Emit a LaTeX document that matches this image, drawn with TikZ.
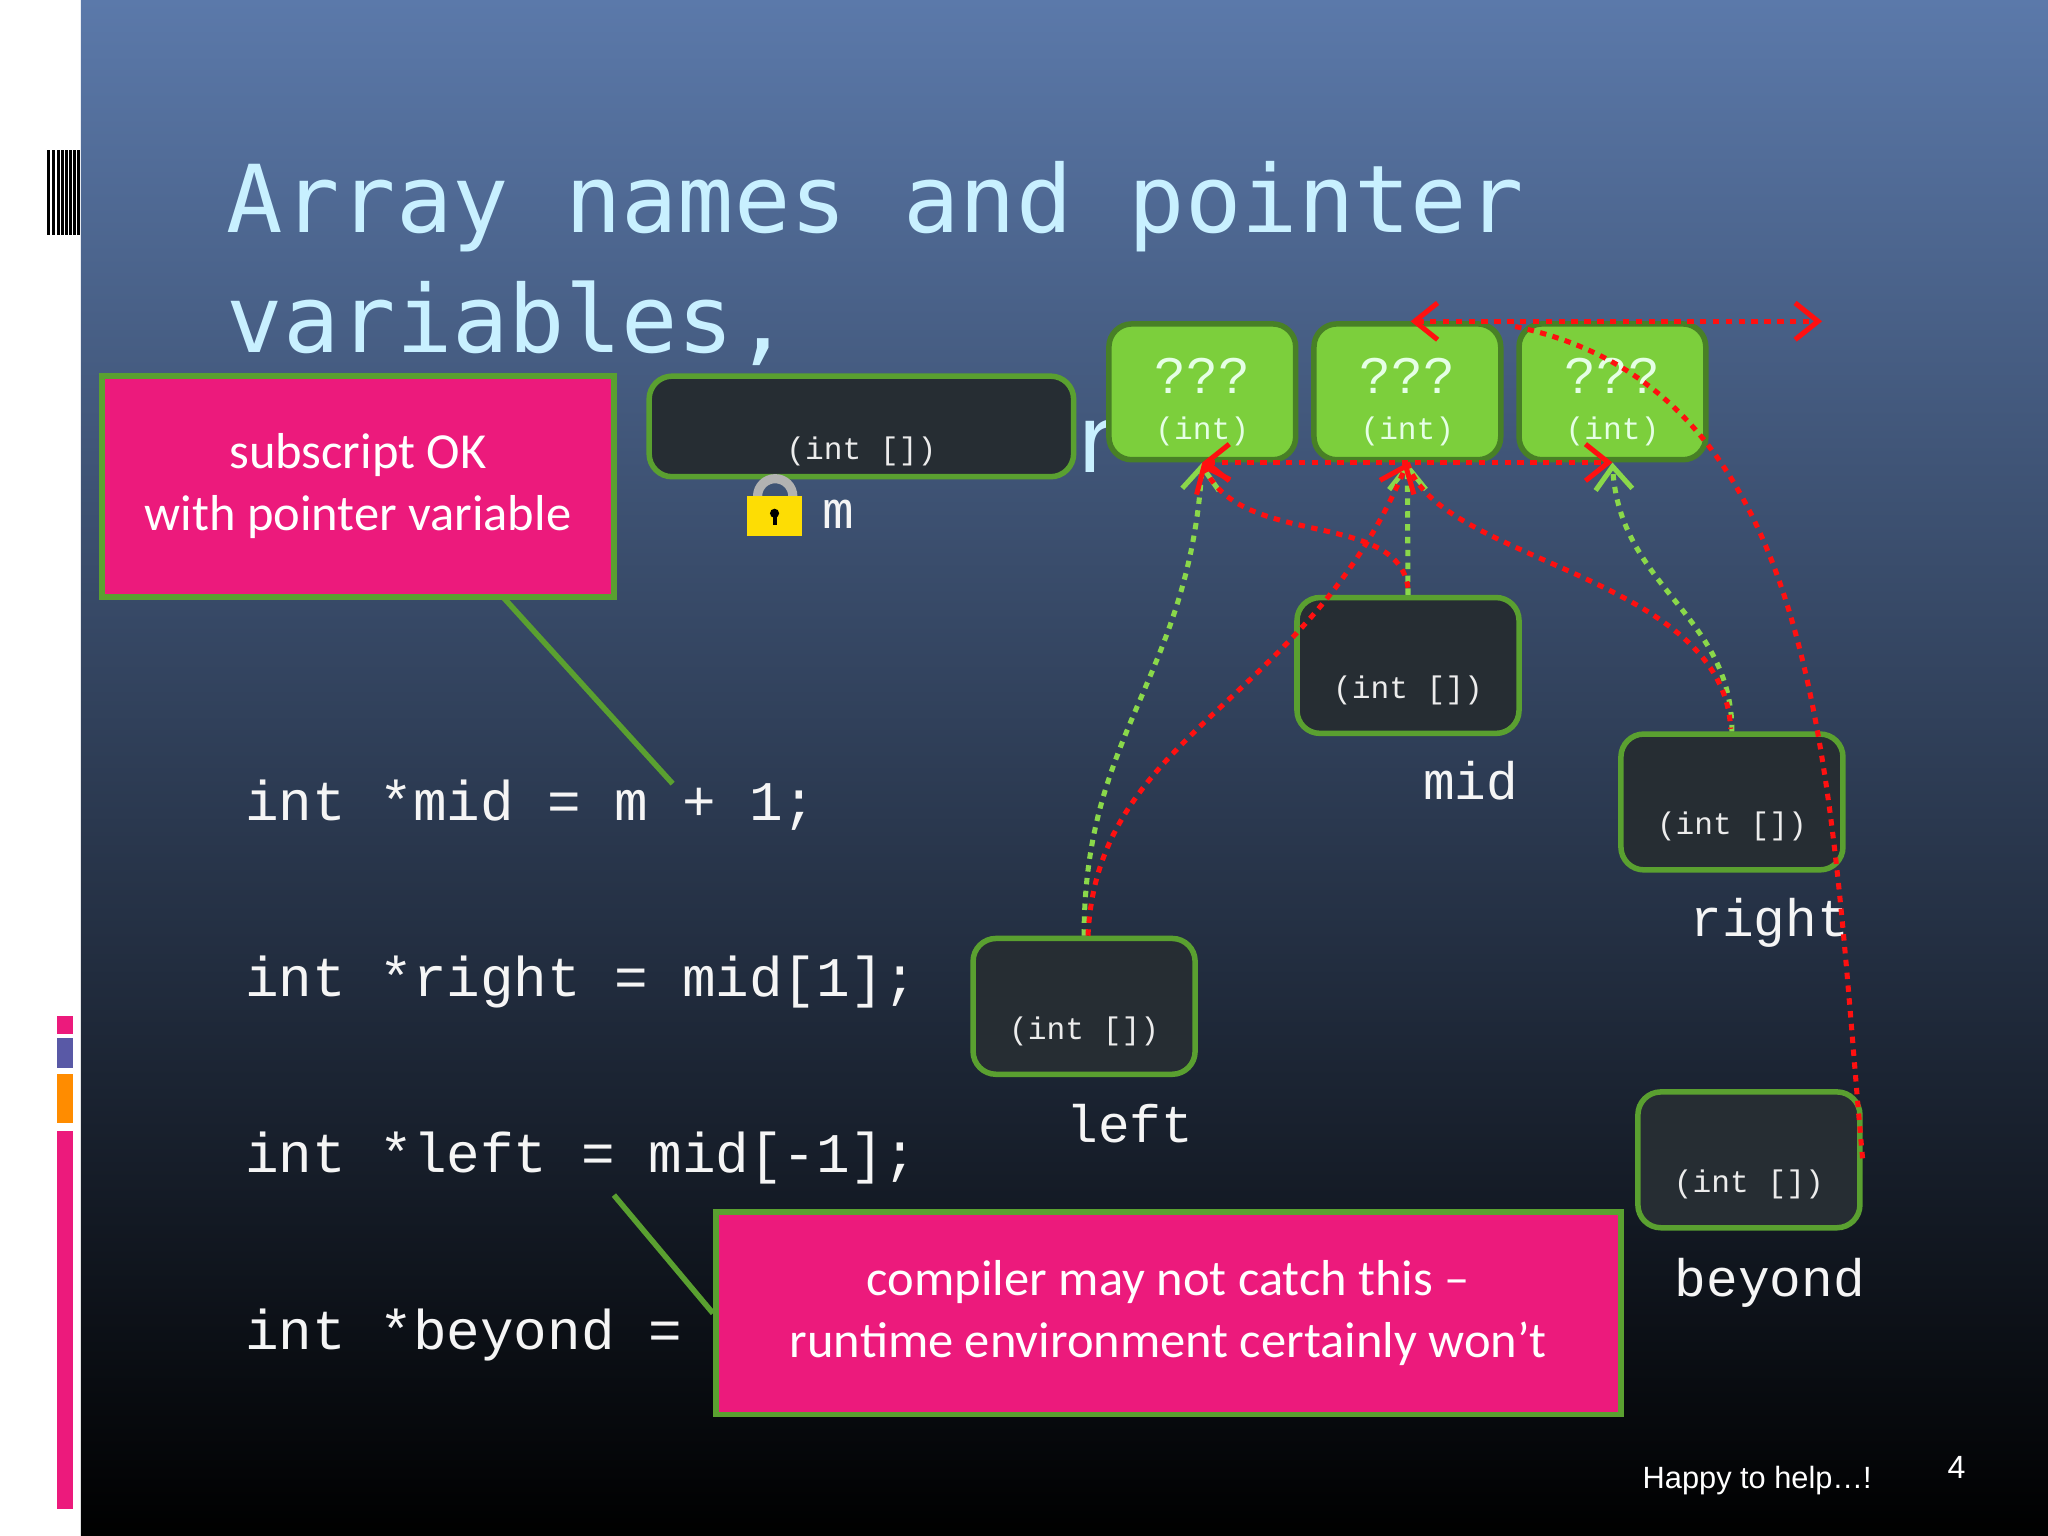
\documentclass[tikz,border=0pt]{standalone}
\usepackage{fontspec}
\usetikzlibrary{arrows.meta}
\newfontfamily\titlef{DejaVu Sans Mono}
\newfontfamily\codef{Liberation Mono}
\newfontfamily\calf{Carlito}
\newfontfamily\arialf{Liberation Sans}
\definecolor{pinkc}{HTML}{EC1A7C}
\definecolor{edgeg}{HTML}{5AA030}
\definecolor{boxd}{HTML}{262D33}
\definecolor{lgreen}{HTML}{7CCF3C}
\definecolor{titlec}{HTML}{C8F0FF}
\definecolor{bgtop}{HTML}{5B79AA}
\definecolor{bgmid}{HTML}{26334B}
\definecolor{redd}{HTML}{FF1010}
\definecolor{greend}{HTML}{8AD84A}
\tikzset{
 darkbox/.style={draw=edgeg,line width=1.2pt,fill=boxd,rounded corners=5pt,minimum width=1.7cm,minimum height=1.04cm,inner sep=0pt},
 inttxt/.style={text=white!85!gray,font=\codef\fontsize{6.8}{7}\selectfont},
 grbox/.style={draw=edgeg!80!black,line width=1.2pt,fill=lgreen,rounded corners=5pt,minimum width=1.43cm,minimum height=1.04cm,inner sep=0pt},
 pinkbox/.style={draw=edgeg,line width=1.2pt,fill=pinkc,inner sep=0pt,text=white,font=\calf\fontsize{11}{13.5}\selectfont,align=center},
 codet/.style={text=white!92!gray,font=\codef\fontsize{12.2}{12}\selectfont,anchor=base west,inner sep=0pt},
 vlabel/.style={text=white!92!gray,font=\codef\fontsize{11.5}{12}\selectfont,anchor=base,inner sep=0pt},
 rdot/.style={redd,line width=1.1pt,dash pattern=on 1.4pt off 1.4pt},
 gdot/.style={greend,line width=1.1pt,dash pattern=on 1.4pt off 1.4pt},
 tip/.style={-{Straight Barb[length=5pt,width=8pt]}},
 tips/.style={{Straight Barb[length=5pt,width=8pt]}-{Straight Barb[length=5pt,width=8pt]}},
}
\begin{document}
\begin{tikzpicture}
\useasboundingbox (0,0) rectangle (15.68,-11.76);
\fill[white] (0,0) rectangle (0.62,-11.76);
\shade[top color=bgtop,middle color=bgmid,bottom color=black] (0.62,0) rectangle (15.68,-11.76);
% left decoration
\foreach \x in {0.36,0.40,0.44,0.47,0.50,0.53,0.56,0.59}
  \fill[black] (\x,-1.15) rectangle (\x+0.02,-1.80);
\fill[pinkc] (0.44,-7.78) rectangle (0.56,-7.92);
\fill[gray!70!blue] (0.44,-7.95) rectangle (0.56,-8.18);
\fill[orange!90!yellow] (0.44,-8.22) rectangle (0.56,-8.60);
\fill[pinkc] (0.44,-8.66) rectangle (0.56,-11.55);
% title
\node[anchor=base west,inner sep=0pt,text=titlec,font=\titlef\fontsize{20.4}{24}\selectfont] (t1) at (1.73,-1.78) {Array names and pointer};
\node[anchor=base west,inner sep=0pt,text=titlec,font=\titlef\fontsize{20.4}{24}\selectfont] (t2) at (1.73,-2.70) {variables,};
\node[anchor=base west,inner sep=0pt,text=titlec,font=\titlef\fontsize{20.4}{24}\selectfont] (tr) at (8.18,-3.62) {r};
% pointer box m
\node[darkbox,minimum width=3.25cm,minimum height=0.77cm,label={[inttxt,yshift=-0.19cm]center:(int [])}] (m) at (6.595,-3.265) {};
\node[vlabel] (ml) at (6.42,-4.05) {m};
% lock
\draw[gray!60,line width=2pt] (5.80,-3.80) arc (180:0:0.135) -- (6.07,-3.86);
\fill[yellow!80!orange] (5.72,-3.80) rectangle (6.14,-4.10);
\fill[black] (5.93,-3.93) circle (0.035);
\fill[black] (5.915,-3.93) rectangle (5.945,-4.02);
% green cells
\foreach \n/\x in {g1/9.205,g2/10.775,g3/12.345}
  \node[grbox] (\n) at (\x,-3.00) {};
\foreach \n in {g1,g2,g3}{
  \node[text=white!90!green,font=\codef\fontsize{11.5}{12}\selectfont,inner sep=0pt] at ([yshift=0.12cm]\n.center) {???};
  \node[inttxt,text=white!90!green] at ([yshift=-0.30cm]\n.center) {(int)};
}
% pointer boxes
\node[darkbox,label={[inttxt,yshift=-0.19cm]center:(int [])}] (mid) at (10.78,-5.095) {};
\node[darkbox,label={[inttxt,yshift=-0.19cm]center:(int [])}] (right) at (13.26,-6.14) {};
\node[darkbox,label={[inttxt,yshift=-0.19cm]center:(int [])}] (left) at (8.30,-7.705) {};
\node[darkbox,label={[inttxt,yshift=-0.19cm]center:(int [])}] (beyond) at (13.39,-8.88) {};
\node[vlabel] (midl) at (11.26,-6.12) {mid};
\node[vlabel] (rightl) at (13.55,-7.17) {right};
\node[vlabel] (leftl) at (8.65,-8.75) {left};
\node[vlabel] (beyondl) at (13.55,-9.93) {beyond};
% code
\node[codet] (c1) at (1.87,-6.28) {int *mid = m + 1;};
\node[codet] (c2) at (1.87,-7.63) {int *right = mid[1];};
\node[codet] (c3) at (1.87,-8.98) {int *left = mid[-1];};
\node[codet] (c4) at (1.87,-10.33) {int *beyond =};
% callouts
\coordinate (p1) at (5.15,-6.00);
\coordinate (p2) at (4.70,-9.15);
\node[pinkbox,minimum width=3.92cm,minimum height=1.69cm] (pink1) at (2.74,-3.725) {subscript OK\\with pointer variable};
\node[pinkbox,minimum width=6.93cm,minimum height=1.55cm] (pink2) at (8.945,-10.055) {compiler may not catch this –\\runtime environment certainly won’t};
\draw[edgeg,line width=1.2pt] (3.85,-4.57) -- (p1);
\draw[edgeg,line width=1.2pt] (p2) -- (pink2.west);
% green arrows
\draw[gdot,tip] (left.north) .. controls (8.30,-5.6) and (9.10,-5.2) .. (g1.south);
\draw[gdot,tip] (mid.north) -- (g2.south);
\draw[gdot,tip] (right.north) .. controls (13.26,-4.7) and (12.40,-4.5) .. (g3.south);
% red arrows
\draw[rdot,tip] ([xshift=0.03cm]left.north) .. controls (8.40,-5.6) and (10.0,-5.4) .. (g2.south);
\draw[rdot,tips] (g1.south) -- (g3.south);
\draw[rdot,tip] (10.78,-4.50) .. controls (10.70,-3.9) and (9.50,-4.2) .. (g1.south);
\draw[rdot] (g2.south) .. controls (11.0,-4.3) and (13.2,-4.4) .. (13.25,-5.58);
\coordinate (ta) at (10.80,-2.46);
\coordinate (tb) at (13.95,-2.46);
\draw[rdot,tips] (ta) -- (tb);
\draw[rdot] (11.60,-2.50) .. controls (14.0,-3.0) and (14.0,-6.0) .. (beyond.east);
% footer
\node[anchor=base west,inner sep=0pt,text=white,font=\arialf\fontsize{6.7}{7}\selectfont] (f1) at (12.57,-11.40) {Happy to help\ldots!};
\node[anchor=base,inner sep=0pt,text=white,font=\arialf\fontsize{7}{8}\selectfont] (f2) at (14.98,-11.32) {4};
\end{tikzpicture}
\end{document}
